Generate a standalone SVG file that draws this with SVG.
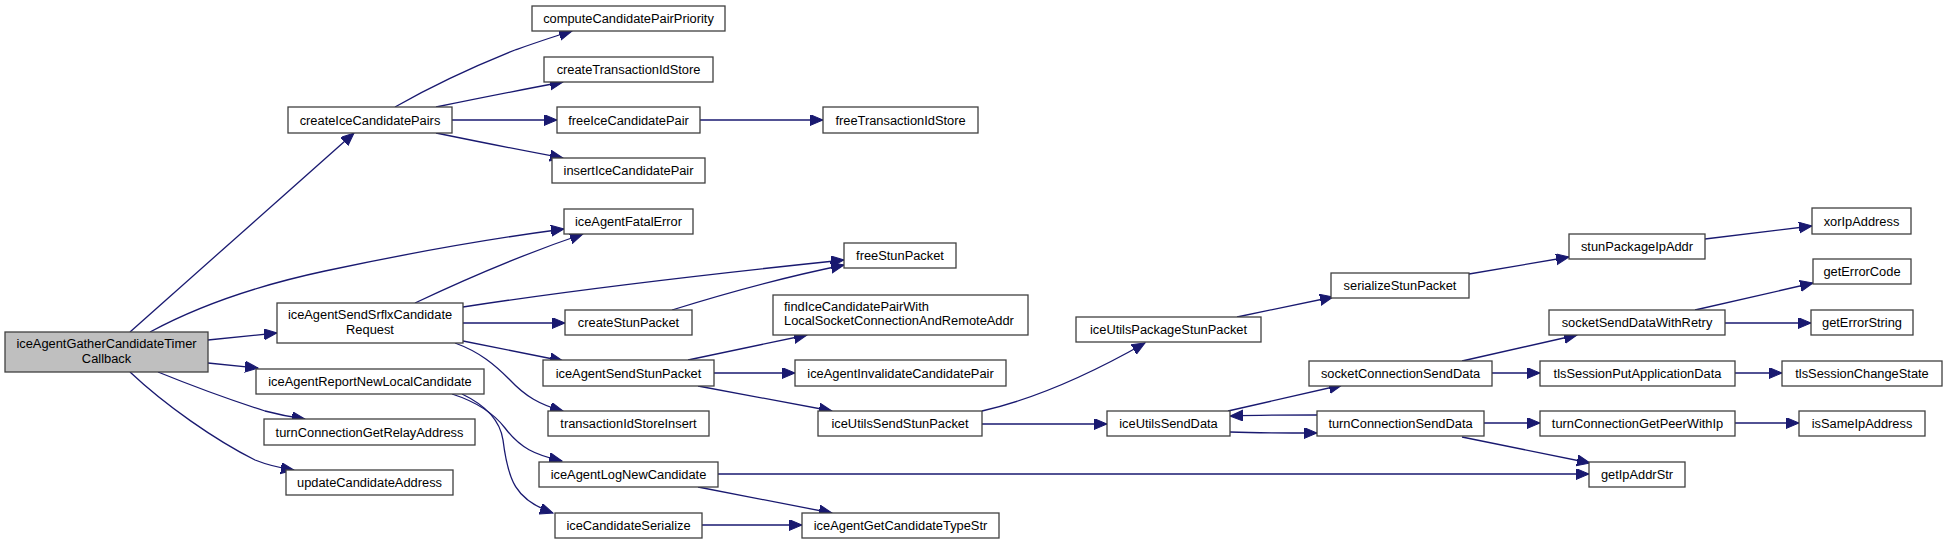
<svg xmlns="http://www.w3.org/2000/svg" width="1947" height="544" viewBox="0 0 1947 544">
<style>
.n rect{fill:#ffffff;stroke:#404040;stroke-width:1.3}
.n.root rect{fill:#bfbfbf}
.n text{font-family:"Liberation Sans",Arial,sans-serif;font-size:12.85px;fill:#000000;text-anchor:middle}
.n text.l{text-anchor:start}
#edges path{fill:none;stroke:#191970;stroke-width:1.3;marker-end:url(#ah)}
</style>
<defs>
<marker id="ah" markerUnits="userSpaceOnUse" markerWidth="14" markerHeight="12" refX="13" refY="5.5" orient="auto">
<path d="M0,0 L13,5.5 L0,11 Z" fill="#191970" stroke="#191970" stroke-width="1"/>
</marker>
</defs>
<rect width="1947" height="544" fill="#ffffff"/>
<g id="edges">
<path d="M130,332 L354,133"/>
<path d="M150,332 C200,305 255,286 325,271 C400,255 480,240 564,229"/>
<path d="M415,303 C470,277 530,252 583,234"/>
<path d="M395,107 C430,87 470,68 515,50 C535,43 552,37 572,31"/>
<path d="M436,107 C480,98 520,90 563,82"/>
<path d="M452,120 L557,120"/>
<path d="M436,133 C480,142 520,150 563,158"/>
<path d="M700,120 L823,120"/>
<path d="M208,340 L277,333"/>
<path d="M208,363 L258,368"/>
<path d="M158,372 C190,385 240,403 265,411 C280,415 290,417 305,419"/>
<path d="M130,372 C165,405 215,440 255,460 C265,464 280,468 294,470"/>
<path d="M463,307 C560,292 700,275 844,260"/>
<path d="M672,310 C720,295 780,278 844,265"/>
<path d="M463,323 L565,323"/>
<path d="M463,341 L563,361"/>
<path d="M455,343 C480,352 495,365 510,380 C525,396 540,405 563,411"/>
<path d="M452,394 C480,403 495,415 505,428 C520,448 535,455 562,461"/>
<path d="M462,394 C485,405 500,420 503,440 C508,480 515,500 553,513"/>
<path d="M688,360 L807,335"/>
<path d="M714,373 L795,373"/>
<path d="M698,386 L832,411"/>
<path d="M718,474 L1589,474"/>
<path d="M698,487 L832,513"/>
<path d="M702,525 L802,525"/>
<path d="M982,411 C1030,400 1080,380 1145,343"/>
<path d="M982,424 L1107,424"/>
<path d="M1237,317 L1333,297"/>
<path d="M1469,274 L1569,257"/>
<path d="M1705,239 L1812,226"/>
<path d="M1228,411 L1342,385"/>
<path d="M1317,415 C1290,415 1260,415 1230,416"/>
<path d="M1230,432 C1260,433 1290,433 1317,433"/>
<path d="M1462,361 L1577,335"/>
<path d="M1492,373 L1540,373"/>
<path d="M1695,310 L1813,283"/>
<path d="M1725,323 L1811,323"/>
<path d="M1735,373 L1782,373"/>
<path d="M1484,423 L1540,423"/>
<path d="M1735,423 L1799,423"/>
<path d="M1462,437 L1590,463"/>
</g>
<g id="node-main" class="n root"><rect x="5" y="332" width="203" height="40"/><text x="106.5" y="348">iceAgentGatherCandidateTimer</text><text x="106.5" y="363">Callback</text></g>
<g id="node-createIceCandidatePairs" class="n"><rect x="288" y="107" width="164" height="26"/><text x="370" y="124.5">createIceCandidatePairs</text></g>
<g id="node-computeCandidatePairPriority" class="n"><rect x="532" y="6" width="193" height="25"/><text x="628.5" y="23">computeCandidatePairPriority</text></g>
<g id="node-createTransactionIdStore" class="n"><rect x="544" y="57" width="169" height="25"/><text x="628.5" y="74">createTransactionIdStore</text></g>
<g id="node-freeIceCandidatePair" class="n"><rect x="557" y="107" width="143" height="26"/><text x="628.5" y="124.5">freeIceCandidatePair</text></g>
<g id="node-freeTransactionIdStore" class="n"><rect x="823" y="107" width="155" height="26"/><text x="900.5" y="124.5">freeTransactionIdStore</text></g>
<g id="node-insertIceCandidatePair" class="n"><rect x="552" y="158" width="153" height="25"/><text x="628.5" y="175">insertIceCandidatePair</text></g>
<g id="node-iceAgentFatalError" class="n"><rect x="564" y="209" width="129" height="25"/><text x="628.5" y="226">iceAgentFatalError</text></g>
<g id="node-freeStunPacket" class="n"><rect x="844" y="243" width="112" height="25"/><text x="900" y="260">freeStunPacket</text></g>
<g id="node-iceAgentSendSrflxCandidateRequest" class="n"><rect x="277" y="303" width="186" height="40"/><text x="370" y="318.5">iceAgentSendSrflxCandidate</text><text x="370" y="333.5">Request</text></g>
<g id="node-createStunPacket" class="n"><rect x="565" y="310" width="127" height="25"/><text x="628.5" y="327">createStunPacket</text></g>
<g id="node-findIceCandidatePairWithLocalSocketConnectionAndRemoteAddr" class="n"><rect x="773" y="295" width="255" height="40"/><text class="l" x="784" y="311">findIceCandidatePairWith</text><text class="l" x="784" y="325">LocalSocketConnectionAndRemoteAddr</text></g>
<g id="node-iceAgentSendStunPacket" class="n"><rect x="543" y="360" width="171" height="26"/><text x="628.5" y="377.5">iceAgentSendStunPacket</text></g>
<g id="node-iceAgentInvalidateCandidatePair" class="n"><rect x="795" y="360" width="211" height="26"/><text x="900.5" y="377.5">iceAgentInvalidateCandidatePair</text></g>
<g id="node-transactionIdStoreInsert" class="n"><rect x="548" y="411" width="161" height="25"/><text x="628.5" y="428">transactionIdStoreInsert</text></g>
<g id="node-iceUtilsSendStunPacket" class="n"><rect x="818" y="411" width="164" height="25"/><text x="900" y="428">iceUtilsSendStunPacket</text></g>
<g id="node-iceAgentReportNewLocalCandidate" class="n"><rect x="256" y="369" width="228" height="25"/><text x="370" y="386">iceAgentReportNewLocalCandidate</text></g>
<g id="node-turnConnectionGetRelayAddress" class="n"><rect x="264" y="419" width="211" height="26"/><text x="369.5" y="436.5">turnConnectionGetRelayAddress</text></g>
<g id="node-updateCandidateAddress" class="n"><rect x="286" y="470" width="167" height="25"/><text x="369.5" y="487">updateCandidateAddress</text></g>
<g id="node-iceAgentLogNewCandidate" class="n"><rect x="539" y="462" width="179" height="25"/><text x="628.5" y="479">iceAgentLogNewCandidate</text></g>
<g id="node-iceCandidateSerialize" class="n"><rect x="555" y="513" width="147" height="25"/><text x="628.5" y="530">iceCandidateSerialize</text></g>
<g id="node-iceAgentGetCandidateTypeStr" class="n"><rect x="802" y="513" width="197" height="25"/><text x="900.5" y="530">iceAgentGetCandidateTypeStr</text></g>
<g id="node-iceUtilsPackageStunPacket" class="n"><rect x="1076" y="317" width="185" height="25"/><text x="1168.5" y="334">iceUtilsPackageStunPacket</text></g>
<g id="node-serializeStunPacket" class="n"><rect x="1331" y="273" width="138" height="25"/><text x="1400" y="290">serializeStunPacket</text></g>
<g id="node-stunPackageIpAddr" class="n"><rect x="1569" y="234" width="136" height="25"/><text x="1637" y="251">stunPackageIpAddr</text></g>
<g id="node-xorIpAddress" class="n"><rect x="1812" y="208" width="99" height="26"/><text x="1861.5" y="225.5">xorIpAddress</text></g>
<g id="node-getErrorCode" class="n"><rect x="1813" y="259" width="98" height="25"/><text x="1862" y="276">getErrorCode</text></g>
<g id="node-socketSendDataWithRetry" class="n"><rect x="1549" y="310" width="176" height="25"/><text x="1637" y="327">socketSendDataWithRetry</text></g>
<g id="node-getErrorString" class="n"><rect x="1811" y="310" width="102" height="25"/><text x="1862" y="327">getErrorString</text></g>
<g id="node-socketConnectionSendData" class="n"><rect x="1309" y="361" width="183" height="25"/><text x="1400.5" y="378">socketConnectionSendData</text></g>
<g id="node-tlsSessionPutApplicationData" class="n"><rect x="1540" y="361" width="195" height="25"/><text x="1637.5" y="378">tlsSessionPutApplicationData</text></g>
<g id="node-tlsSessionChangeState" class="n"><rect x="1782" y="361" width="160" height="25"/><text x="1862" y="378">tlsSessionChangeState</text></g>
<g id="node-iceUtilsSendData" class="n"><rect x="1107" y="411" width="123" height="25"/><text x="1168.5" y="428">iceUtilsSendData</text></g>
<g id="node-turnConnectionSendData" class="n"><rect x="1317" y="411" width="167" height="25"/><text x="1400.5" y="428">turnConnectionSendData</text></g>
<g id="node-turnConnectionGetPeerWithIp" class="n"><rect x="1540" y="411" width="195" height="25"/><text x="1637.5" y="428">turnConnectionGetPeerWithIp</text></g>
<g id="node-isSameIpAddress" class="n"><rect x="1799" y="411" width="126" height="25"/><text x="1862" y="428">isSameIpAddress</text></g>
<g id="node-getIpAddrStr" class="n"><rect x="1589" y="462" width="96" height="25"/><text x="1637" y="479">getIpAddrStr</text></g>
</svg>
